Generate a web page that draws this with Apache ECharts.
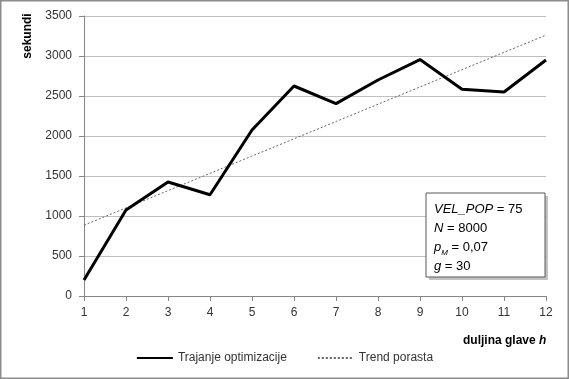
<!DOCTYPE html>
<html><head><meta charset="utf-8">
<script src="https://cdn.jsdelivr.net/npm/echarts@6/dist/echarts.min.js"></script>
<style>html,body{margin:0;padding:0;background:#fff}#c{width:569px;height:379px}</style>
</head><body><div id="c"></div>
<script>
const categories = ['1','2','3','4','5','6','7','8','9','10','11','12'];
const trajanje = [200, 1075, 1425, 1265, 2075, 2625, 2405, 2700, 2955, 2585, 2550, 2950];
const trend = [885, 1101, 1317, 1533, 1749, 1965, 2181, 2397, 2613, 2829, 3045, 3261];
const yTicks = [0, 500, 1000, 1500, 2000, 2500, 3000, 3500];
const seriesNames = ['Trajanje optimizacije', 'Trend porasta'];

const FONT = '"Liberation Sans", Arial, sans-serif';
const chart = echarts.init(document.getElementById('c'));
chart.setOption({
  animation: false,
  textStyle: { fontFamily: FONT },
  grid: { left: 84, right: 23, top: 16, bottom: 83, containLabel: false },
  xAxis: {
    type: 'category', data: categories, boundaryGap: false,
    axisLine: { lineStyle: { color: '#868686' } },
    axisTick: { show: true, length: 5, lineStyle: { color: '#868686' } },
    axisLabel: { color: '#333', fontSize: 12, margin: 11, fontFamily: FONT },
    splitLine: { show: false }
  },
  yAxis: {
    type: 'value', min: yTicks[0], max: yTicks[yTicks.length - 1], interval: 500,
    axisLine: { show: true, lineStyle: { color: '#868686' } },
    axisTick: { show: true, length: 5, lineStyle: { color: '#868686' } },
    axisLabel: { color: '#333', fontSize: 12, margin: 12, fontFamily: FONT,
      formatter: v => String(v) },
    splitLine: { lineStyle: { color: '#bfbfbf', width: 1 } }
  },
  legend: {
    show: true, bottom: 10, left: 'center', itemWidth: 36, itemHeight: 12, itemGap: 30,
    itemStyle: { opacity: 0 },
    textStyle: { color: '#333', fontSize: 12, fontFamily: FONT },
    data: seriesNames
  },
  series: [
    { name: seriesNames[0], type: 'line', data: trajanje, symbol: 'none', showSymbol: false,
      lineStyle: { color: '#000', width: 3 }, itemStyle: { color: '#000' }, z: 3 },
    { name: seriesNames[1], type: 'line', data: trend, symbol: 'none', showSymbol: false,
      lineStyle: { color: '#666', width: 1, type: [2, 2] }, itemStyle: { color: '#666' }, z: 2 }
  ],
  graphic: [
    { type: 'rect', silent: true, shape: { x: 0.75, y: 0.75, width: 567.5, height: 377.5 },
      style: { fill: 'none', stroke: '#8c8c8c', lineWidth: 1.5 } },
    { type: 'text', x: 28, y: 36, rotation: Math.PI / 2, silent: true,
      style: { text: 'sekundi', fill: '#000', font: 'bold 12px ' + FONT, align: 'center', verticalAlign: 'middle' } },
    { type: 'text', x: 463, y: 335, silent: true,
      style: { text: '{a|duljina glave }{b|h}', fill: '#000',
        rich: { a: { font: 'bold 12px ' + FONT }, b: { font: 'italic bold 12px ' + FONT } } } },
    { type: 'rect', shape: { x: 429, y: 196, width: 119, height: 84 },
      style: { fill: '#9a9a9a', opacity: 0.6 }, silent: true, z: 9 },
    { type: 'rect', shape: { x: 426, y: 193, width: 119, height: 84 },
      style: { fill: '#fff', stroke: '#595959', lineWidth: 1 }, silent: true, z: 10 },
    { type: 'text', x: 434, y: 200, z: 11, silent: true,
      style: { text: '{i|VEL_POP} = 75\n{i|N} = 8000\n{i|p}{s|M} = 0,07\n{i|g} = 30',
        fill: '#000', font: '13px ' + FONT, lineHeight: 19,
        rich: { i: { font: 'italic 13px ' + FONT, lineHeight: 19 },
                s: { font: 'italic 8px ' + FONT, verticalAlign: 'bottom', lineHeight: 19, padding: [6, 0, 0, 0] } } } }
  ]
});
</script></body></html>
